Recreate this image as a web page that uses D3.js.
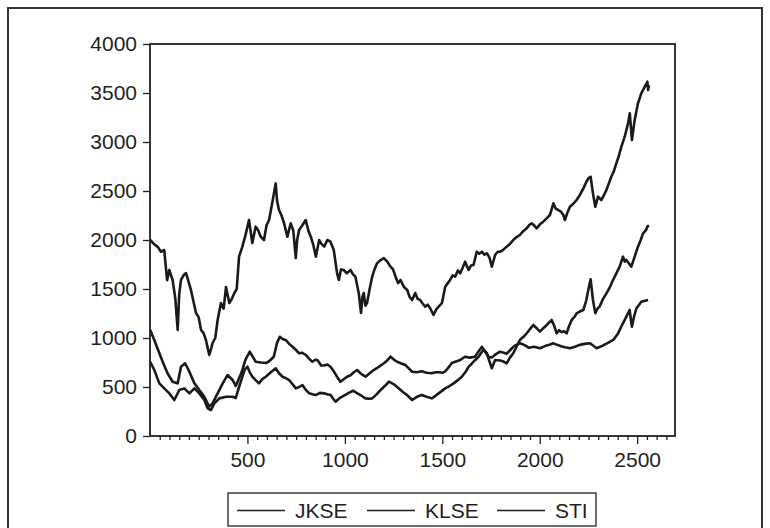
<!DOCTYPE html>
<meta charset="utf-8">
<head>
    <title>JKSE, KLSE, STI</title>
    <script src="https://cdn.jsdelivr.net/npm/d3@7"></script>
    <style>
        html, body {
            margin: 0;
            padding: 0;
            background-color: white;
        }
        #chart text {
            font-family: "Liberation Sans", Arial, sans-serif;
            fill: #231f20;
        }
    </style>
</head>
<body>
    <div id="chart"></div>

    <script>
        var stiData = [[1,2000],[20,1960],[40,1930],[56,1880],[73,1898],[80,1750],[88,1590],[99,1694],[116,1592],[130,1400],[142,1082],[150,1450],[159,1592],[172,1640],[185,1663],[197,1580],[210,1490],[236,1255],[250,1210],[262,1082],[275,1050],[287,980],[304,827],[315,900],[321,949],[335,1000],[347,1184],[364,1357],[378,1300],[390,1520],[407,1357],[420,1400],[433,1459],[445,1500],[457,1830],[474,1932],[490,2050],[508,2204],[525,1969],[542,2136],[555,2100],[568,2034],[585,2000],[598,2150],[611,2204],[627,2374],[645,2578],[652,2400],[662,2306],[675,2250],[688,2170],[705,2034],[722,2170],[735,2100],[748,1816],[755,2000],[765,2102],[782,2150],[799,2204],[812,2100],[825,2034],[838,1950],[851,1830],[868,2000],[880,1960],[894,1932],[910,2000],[926,1983],[943,1898],[960,1660],[969,1592],[980,1700],[994,1694],[1010,1660],[1029,1694],[1042,1650],[1054,1626],[1071,1459],[1083,1255],[1090,1420],[1097,1459],[1105,1330],[1114,1357],[1127,1500],[1140,1626],[1152,1700],[1165,1762],[1180,1790],[1200,1816],[1217,1780],[1234,1728],[1247,1700],[1260,1626],[1273,1560],[1286,1592],[1303,1520],[1320,1490],[1332,1420],[1345,1388],[1361,1459],[1373,1400],[1386,1388],[1400,1350],[1412,1320],[1425,1340],[1437,1306],[1455,1235],[1468,1290],[1481,1320],[1498,1357],[1515,1524],[1528,1560],[1540,1592],[1553,1640],[1566,1626],[1580,1690],[1592,1660],[1605,1720],[1617,1779],[1635,1694],[1648,1740],[1660,1745],[1677,1881],[1690,1860],[1703,1881],[1716,1850],[1729,1864],[1742,1820],[1754,1728],[1771,1847],[1784,1880],[1797,1881],[1813,1900],[1830,1932],[1847,1960],[1864,2000],[1881,2030],[1898,2051],[1915,2090],[1933,2119],[1945,2150],[1958,2170],[1971,2150],[1984,2119],[2001,2160],[2018,2187],[2035,2220],[2052,2255],[2070,2374],[2082,2320],[2095,2306],[2108,2290],[2121,2255],[2129,2204],[2142,2280],[2155,2340],[2172,2370],[2189,2408],[2206,2460],[2224,2527],[2236,2580],[2249,2629],[2261,2646],[2273,2476],[2285,2340],[2299,2442],[2316,2408],[2330,2460],[2342,2510],[2355,2580],[2367,2646],[2380,2700],[2393,2782],[2406,2860],[2419,2952],[2436,3054],[2453,3190],[2462,3292],[2473,3020],[2487,3224],[2504,3395],[2521,3497],[2539,3564],[2552,3615],[2556,3530],[2560,3580]];

        var klseData = [[1,1082],[22,980],[48,844],[65,758],[90,640],[116,554],[142,537],[159,707],[180,742],[202,656],[228,537],[253,469],[279,401],[304,299],[321,333],[347,435],[373,537],[398,622],[424,571],[440,510],[470,650],[490,780],[512,860],[530,800],[542,758],[570,750],[595,745],[610,760],[635,809],[652,950],[666,1013],[680,990],[696,980],[714,940],[731,911],[748,880],[765,844],[782,850],[799,827],[816,790],[833,758],[850,780],[861,770],[878,720],[893,720],[910,730],[926,707],[943,660],[960,605],[977,554],[994,580],[1011,605],[1029,620],[1046,650],[1063,673],[1080,640],[1093,620],[1106,605],[1127,640],[1148,673],[1170,700],[1200,742],[1217,770],[1234,809],[1251,780],[1268,758],[1290,740],[1311,724],[1328,690],[1345,656],[1370,650],[1394,660],[1420,645],[1446,640],[1465,650],[1481,650],[1500,645],[1515,660],[1532,700],[1549,745],[1570,760],[1592,776],[1616,809],[1640,800],[1667,809],[1685,860],[1703,911],[1720,860],[1737,809],[1754,800],[1771,830],[1796,860],[1815,850],[1830,840],[1850,880],[1870,920],[1898,946],[1920,930],[1945,900],[1970,910],[2001,895],[2030,920],[2050,930],[2068,946],[2090,930],[2110,915],[2130,905],[2155,895],[2180,910],[2205,930],[2230,940],[2258,946],[2275,920],[2292,895],[2320,920],[2350,950],[2377,980],[2400,1040],[2418,1115],[2440,1200],[2461,1286],[2473,1115],[2484,1220],[2496,1303],[2510,1340],[2521,1370],[2540,1380],[2556,1388]];

        var jkseData = [[1,758],[22,673],[48,537],[73,486],[99,435],[125,367],[150,469],[176,486],[202,435],[228,486],[253,435],[279,367],[296,282],[313,265],[330,333],[356,384],[390,401],[424,401],[440,388],[457,500],[474,605],[487,680],[500,707],[512,650],[525,605],[542,570],[559,537],[576,580],[594,605],[620,650],[645,691],[662,640],[680,605],[697,590],[714,571],[731,530],[748,486],[765,500],[782,520],[800,470],[817,435],[834,425],[851,418],[872,440],[893,435],[910,425],[926,420],[940,380],[952,350],[975,390],[1000,418],[1020,440],[1042,462],[1060,440],[1080,418],[1093,400],[1106,384],[1123,380],[1140,384],[1160,420],[1183,469],[1205,510],[1226,554],[1250,530],[1268,500],[1286,469],[1303,440],[1320,418],[1333,390],[1345,367],[1370,400],[1394,418],[1420,400],[1446,384],[1465,410],[1481,435],[1498,460],[1515,486],[1537,510],[1558,537],[1580,570],[1600,605],[1618,650],[1635,707],[1652,740],[1669,776],[1686,809],[1700,850],[1712,878],[1729,844],[1742,760],[1754,691],[1771,776],[1797,770],[1813,760],[1830,742],[1847,800],[1864,844],[1881,911],[1898,980],[1915,1010],[1933,1048],[1950,1090],[1967,1133],[1984,1100],[2001,1065],[2018,1100],[2036,1133],[2061,1184],[2075,1120],[2087,1048],[2100,1080],[2113,1060],[2125,1070],[2138,1048],[2150,1120],[2164,1184],[2180,1220],[2189,1252],[2205,1270],[2224,1286],[2238,1380],[2249,1490],[2261,1600],[2273,1388],[2285,1252],[2296,1300],[2307,1320],[2325,1400],[2342,1456],[2360,1520],[2376,1592],[2393,1660],[2410,1728],[2427,1830],[2436,1780],[2444,1796],[2458,1760],[2470,1728],[2487,1830],[2504,1932],[2518,2000],[2530,2068],[2545,2100],[2552,2136],[2560,2150]];

        var seriesNames = ["JKSE", "KLSE", "STI"];
        var yTicks = [0, 500, 1000, 1500, 2000, 2500, 3000, 3500, 4000];
        var xTicks = [500, 1000, 1500, 2000, 2500];
        var xMinorTicks = d3.range(50, 2651, 50).filter(function(d) { return d % 500 != 0; });

        var width = 770, height = 528;
        var margin = {top: 44, right: 95, bottom: 92, left: 150};
        var ink = "#231f20";

        var svg = d3.select("#chart").append("svg")
            .attr("width", width)
            .attr("height", height);

        // outer frame
        svg.append("rect")
            .attr("x", 8).attr("y", 8)
            .attr("width", 754).attr("height", 540)
            .attr("fill", "none")
            .attr("stroke", "#333")
            .attr("stroke-width", 2);

        var x = d3.scaleLinear().domain([0, 2694]).range([margin.left, width - margin.right]);
        var y = d3.scaleLinear().domain([0, 4000]).range([height - margin.bottom, margin.top]);

        // y axis
        var yAxis = svg.append("g")
            .attr("transform", "translate(" + margin.left + ",0)")
            .call(d3.axisLeft(y).tickValues(yTicks).tickFormat(d3.format("d")).tickSize(7).tickPadding(6));
        yAxis.select(".domain").remove();

        // x axis, major + minor ticks
        var xAxis = svg.append("g")
            .attr("transform", "translate(0," + (height - margin.bottom) + ")")
            .call(d3.axisBottom(x).tickValues(xTicks).tickFormat(d3.format("d")).tickSize(8).tickPadding(8));
        xAxis.select(".domain").remove();

        var xMinor = svg.append("g")
            .attr("transform", "translate(0," + (height - margin.bottom) + ")")
            .call(d3.axisBottom(x).tickValues(xMinorTicks).tickSize(4).tickFormat(""));
        xMinor.select(".domain").remove();

        svg.selectAll(".tick line").attr("stroke", ink).attr("stroke-width", 1.3);
        svg.selectAll(".tick text").attr("font-size", 21).attr("fill", ink);

        // series
        var line = d3.line()
            .x(function(d) { return x(d[0]); })
            .y(function(d) { return y(d[1]); });

        var plot = svg.append("g");
        [jkseData, klseData, stiData].forEach(function(data) {
            plot.append("path")
                .datum(data)
                .attr("d", line)
                .attr("fill", "none")
                .attr("stroke", "#1a1a1a")
                .attr("stroke-width", 2.6)
                .attr("stroke-linejoin", "round");
        });

        // plot frame
        svg.append("rect")
            .attr("x", margin.left).attr("y", margin.top)
            .attr("width", width - margin.left - margin.right)
            .attr("height", height - margin.top - margin.bottom)
            .attr("fill", "none")
            .attr("stroke", ink)
            .attr("stroke-width", 1.8);

        // legend
        var legend = svg.append("g").attr("transform", "translate(228,493)");
        legend.append("rect")
            .attr("width", 368).attr("height", 33)
            .attr("fill", "white")
            .attr("stroke", ink)
            .attr("stroke-width", 1.3);

        var legendX = [9, 139, 269];
        seriesNames.forEach(function(name, i) {
            legend.append("line")
                .attr("x1", legendX[i]).attr("x2", legendX[i] + 48)
                .attr("y1", 17.5).attr("y2", 17.5)
                .attr("stroke", ink)
                .attr("stroke-width", 1.3);
            legend.append("text")
                .attr("x", legendX[i] + 58)
                .attr("y", 24.5)
                .attr("font-size", 21)
                .text(name);
        });
    </script>
</body>
</html>
